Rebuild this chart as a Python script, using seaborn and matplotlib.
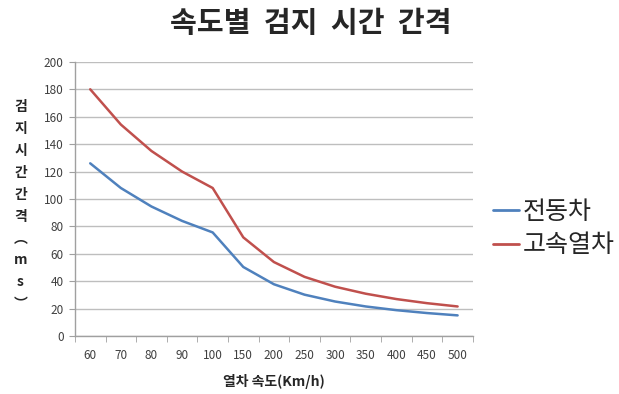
import pandas as pd
import matplotlib
matplotlib.use("Agg")
import matplotlib.pyplot as plt
import seaborn as sns
from matplotlib.ticker import FixedLocator, MultipleLocator

# Data
speeds = ["60", "70", "80", "90", "100", "150", "200", "250", "300", "350", "400", "450", "500"]
emu_ms = [126, 108, 94.5, 84, 75.6, 50.4, 37.8, 30.2, 25.2, 21.6, 18.9, 16.8, 15.1]
hsr_ms = [180, 154.3, 135, 120, 108, 72, 54, 43.2, 36, 30.9, 27, 24, 21.6]
series_names = ["전동차", "고속열차"]

df = pd.concat([
    pd.DataFrame({"speed": speeds, "ms": emu_ms, "series": series_names[0]}),
    pd.DataFrame({"speed": speeds, "ms": hsr_ms, "series": series_names[1]}),
])

sns.set_style("white")
plt.rcParams["font.family"] = ["Noto Sans CJK KR", "DejaVu Sans"]

fig = plt.figure(figsize=(6.19, 3.94), dpi=100)
ax = fig.add_axes([0.121, 0.147, 0.643, 0.696])

sns.lineplot(
    data=df, x="speed", y="ms", hue="series", sort=False,
    palette=["#4F81BD", "#C0504D"], linewidth=1.8, ax=ax, legend=False,
)

ax.set_xlim(-0.5, len(speeds) - 0.5)
ax.set_ylim(0, 200)
ax.yaxis.set_major_locator(MultipleLocator(20))
ax.grid(axis="y", color="#BEBEBE", linewidth=1)
ax.set_axisbelow(True)

# Excel-style ticks: labels at category centres, tick marks between categories
ax.tick_params(axis="x", which="major", length=0, labelsize=8.5, colors="#404040", pad=9)
ax.xaxis.set_minor_locator(FixedLocator([i - 0.5 for i in range(len(speeds) + 1)]))
ax.tick_params(axis="x", which="minor", length=4, color="#A0A0A0", bottom=True)
ax.tick_params(axis="y", length=4, color="#A0A0A0", left=True, labelsize=8.5,
               labelcolor="#404040", pad=4)

for side in ["top", "right"]:
    ax.spines[side].set_visible(False)
for side in ["left", "bottom"]:
    ax.spines[side].set_color("#A0A0A0")
    ax.spines[side].set_linewidth(1)

ax.set_xlabel("열차 속도(Km/h)", fontsize=10, fontweight="bold", labelpad=9)
ylab = "\n".join(list("검지시간간격") + ["︵", "m", "s", "︶"])
ax.set_ylabel("")
fig.text(0.033, 0.478, ylab, fontsize=10, fontweight="bold", ha="center", va="center",
         linespacing=1.72)

fig.suptitle("속도별  검지  시간  간격", fontsize=21, fontweight="bold", x=0.502, y=0.98)

handles = [plt.Line2D([], [], color=c, linewidth=2) for c in ["#4F81BD", "#C0504D"]]
fig.legend(handles, series_names, loc="center left", bbox_to_anchor=(0.796, 0.42),
           frameon=False, fontsize=18, handlelength=1.05, handletextpad=0.15,
           labelspacing=0.3, borderaxespad=0, borderpad=0)

fig.savefig("out.png", dpi=100)
